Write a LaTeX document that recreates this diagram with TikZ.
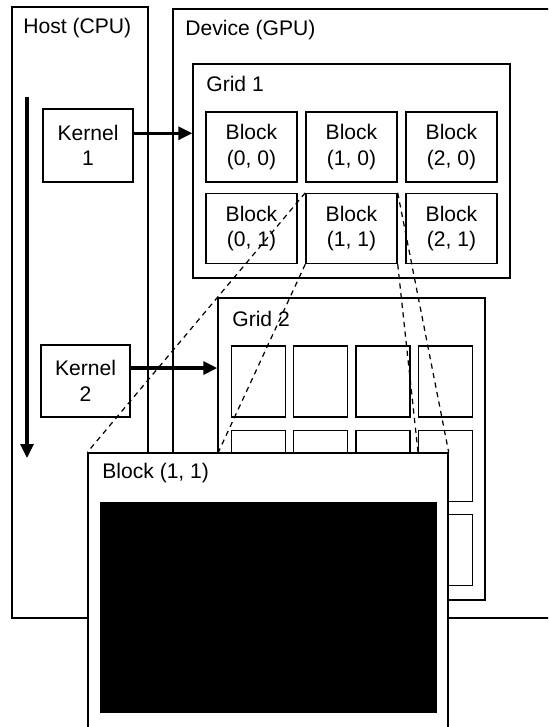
\documentclass[tikz,border=0pt]{standalone}
\usepackage{fontspec}
\setmainfont{Liberation Sans}
\usetikzlibrary{arrows.meta}
\pgfdeclarelayer{front}
\pgfsetlayers{main,front}

\begin{document}
\begin{tikzpicture}[font=\fontsize{12pt}{14.4pt}\selectfont, every node/.style={align=center},
  box/.style={draw, line width=0.8pt, inner sep=0pt},
  title/.style={anchor=west, inner sep=0pt},
  flow/.style={line width=1.8pt, -{Triangle[length=0.28cm,width=0.26cm]}},
  zoomline/.style={line width=0.7pt, dash pattern=on 3pt off 2.5pt}]
  \useasboundingbox (0,0) rectangle (10.96,-14.54);
  \clip (0,0) rectangle (10.96,-14.54);
  \node[box, minimum width=2.72cm, minimum height=12.22cm] (host) at (1.60,-6.25) {};
  \node[title] (hostlbl) at (0.46,-0.56) {Host (CPU)};
  \node[box, minimum width=7.74cm, minimum height=12.18cm] (device) at (7.33,-6.27) {};
  \node[title] (devlbl) at (3.70,-0.60) {Device (GPU)};
  \node[box, minimum width=1.80cm, minimum height=1.46cm] (kernel1) at (1.76,-2.91) {Kernel\\1};
  \node[box, minimum width=1.78cm, minimum height=1.44cm] (kernel2) at (1.71,-7.62) {Kernel\\2};
  \coordinate (tstart) at (0.54,-1.94);
  \coordinate (tend) at (0.54,-9.16);
  \draw[flow] (tstart) -- (tend);
  \node[box, minimum width=6.34cm, minimum height=4.28cm] (grid1) at (7.03,-3.42) {};
  \node[title] (g1lbl) at (4.12,-1.68) {Grid 1};
  \foreach \i in {0,1,2}
    \foreach \j in {0,1}
      \node[box, minimum width=1.82cm, minimum height=1.40cm] (b\i\j)
        at ({5.03+2.0*\i},{-2.94-1.63*\j}) {Block\\(\i, \j)};
  \node[box, minimum width=5.34cm, minimum height=6.04cm] (grid2) at (7.03,-8.98) {};
  \node[title] (g2lbl) at (4.64,-6.38) {Grid 2};
  \foreach \i in {0,...,3}
    \foreach \j in {0,1,2}
      \node[box, minimum width=1.08cm, minimum height=1.42cm] (c\i\j)
        at ({5.17+1.245*\i},{-7.63-1.685*\j}) {};
  \draw[flow] (kernel1.15) -- (kernel1.15 -| grid1.west);
  \draw[flow] (kernel2.16) -- (kernel2.16 -| grid2.west);
  \begin{pgfonlayer}{front}
    \node[box, fill=white, minimum width=7.20cm, minimum height=5.64cm] (big) at (5.36,-11.88) {};
    \node[title] (biglbl) at (2.04,-9.46) {Block (1, 1)};
    \node[fill=black, inner sep=0pt, minimum width=6.74cm, minimum height=4.22cm] (threads) at (5.37,-12.15) {};
  \end{pgfonlayer}
  \foreach \a in {north west,south west,north east,south east}
    \draw[zoomline] (b11.\a) -- (big.\a);
\end{tikzpicture}
\end{document}
